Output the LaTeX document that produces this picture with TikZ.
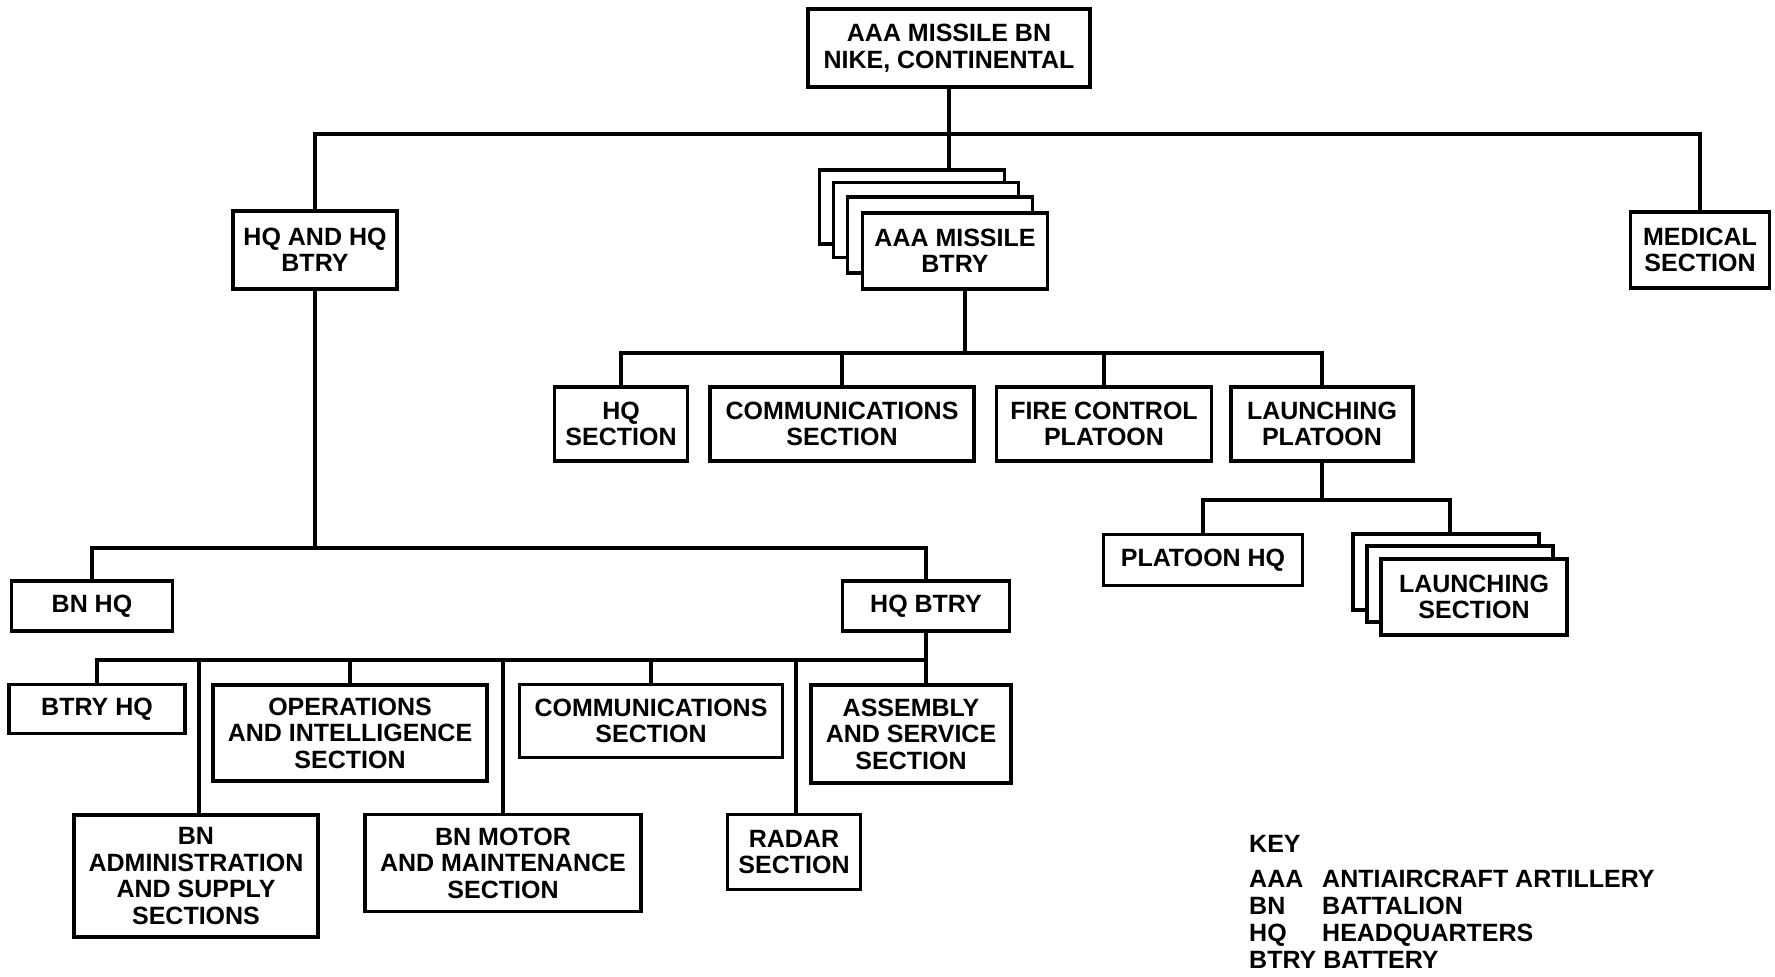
\documentclass[tikz,border=0pt]{standalone}
\usepackage{fontspec}
\setmainfont{Liberation Sans}
\begin{document}
\begin{tikzpicture}[x=1pt,y=1pt,
  box/.style={draw, line width=3.2pt, fill=white, align=center, inner sep=2pt,
    line join=miter, font=\fontsize{25}{26.5}\selectfont\bfseries},
  conn/.style={line width=3.2pt, line join=miter},
  keytext/.style={anchor=base west, inner sep=0pt, font=\fontsize{25}{26.5}\selectfont\bfseries}]
\useasboundingbox (0,0) rectangle (1775,-977);

% top
\node[box, minimum width=282, minimum height=78] (bn) at (949,-48) {AAA MISSILE BN\\NIKE, CONTINENTAL};
\node[box, minimum width=164, minimum height=78] (hqhq) at (315,-250) {HQ AND HQ\\BTRY};
\node[box, minimum width=185, minimum height=74] (btrya) at (912,-207) {};
\node[box, minimum width=185, minimum height=75] (btryb) at (926,-220) {};
\node[box, minimum width=185, minimum height=76] (btryc) at (940,-235) {};
\node[box, minimum width=185, minimum height=76] (btry) at (955,-251) {AAA MISSILE\\BTRY};
\node[box, minimum width=139, minimum height=76] (medical) at (1700,-250) {MEDICAL\\SECTION};

% battery row
\node[box, minimum width=133, minimum height=74] (hqsec) at (621,-424) {HQ\\SECTION};
\node[box, minimum width=264, minimum height=74] (comsec) at (842,-424) {COMMUNICATIONS\\SECTION};
\node[box, minimum width=215, minimum height=74] (fcp) at (1104,-424) {FIRE CONTROL\\PLATOON};
\node[box, minimum width=182, minimum height=74] (lp) at (1322,-424) {LAUNCHING\\PLATOON};

% launching platoon row
\node[box, minimum width=199, minimum height=51] (phq) at (1203,-560) {PLATOON HQ};
\node[box, minimum width=186, minimum height=76] (lsa) at (1446,-572) {};
\node[box, minimum width=186, minimum height=76] (lsb) at (1460,-584) {};
\node[box, minimum width=186, minimum height=76] (ls) at (1474,-597) {LAUNCHING\\SECTION};

% HQ and HQ btry
\node[box, minimum width=161, minimum height=50] (bnhq) at (92,-606) {BN HQ};
\node[box, minimum width=167, minimum height=50] (hqbtry) at (926,-606) {HQ BTRY};

\node[box, minimum width=176, minimum height=49] (btryhq) at (97,-709) {BTRY HQ};
\node[box, minimum width=274, minimum height=96] (opsec) at (350,-733) {OPERATIONS\\AND INTELLIGENCE\\SECTION};
\node[box, minimum width=263, minimum height=73] (comsec2) at (651,-721) {COMMUNICATIONS\\SECTION};
\node[box, minimum width=200, minimum height=98] (asssec) at (911,-734) {ASSEMBLY\\AND SERVICE\\SECTION};

\node[box, minimum width=244, minimum height=122] (bnadmin) at (196,-876) {BN\\ADMINISTRATION\\AND SUPPLY\\SECTIONS};
\node[box, minimum width=276, minimum height=97] (bnmotor) at (503,-863) {BN MOTOR\\AND MAINTENANCE\\SECTION};
\node[box, minimum width=133, minimum height=75] (radar) at (794,-852) {RADAR\\SECTION};

% bars
\coordinate (bar1) at (949,-134);
\coordinate (bar2) at (965,-353);
\coordinate (bar3) at (1322,-500);
\coordinate (bar4) at (315,-548);
\coordinate (bar5) at (926,-660);

% connectors
\draw[conn] (bn.south) -- (bn.south |- btrya.north);
\draw[conn] (hqhq.north) |- (bar1) -| (medical.north);

\draw[conn] ([xshift=10pt]btry.south) -- (bar2);
\draw[conn] (hqsec.north) |- (bar2) -| (lp.north);
\draw[conn] (comsec.north) -- (comsec.north |- bar2);
\draw[conn] (fcp.north) -- (fcp.north |- bar2);

\draw[conn] (lp.south) -- (bar3);
\draw[conn] (phq.north) |- (bar3) -| ([xshift=4pt]lsa.north);

\draw[conn] (hqhq.south) -- (bar4);
\draw[conn] (bnhq.north) |- (bar4) -| (hqbtry.north);

\draw[conn] (hqbtry.south) -- (hqbtry.south |- asssec.north);
\draw[conn] (btryhq.north) |- (bar5);
\draw[conn] (opsec.north) -- (opsec.north |- bar5);
\draw[conn] (comsec2.north) -- (comsec2.north |- bar5);
\draw[conn] ([xshift=3pt]bnadmin.north) -- ([xshift=3pt]bnadmin.north |- bar5);
\draw[conn] (bnmotor.north) -- (bnmotor.north |- bar5);
\draw[conn] ([xshift=2pt]radar.north) -- ([xshift=2pt]radar.north |- bar5);

% key
\node[keytext] (k0) at (1249,-852) {KEY};
\node[keytext] (k1) at (1249,-887) {AAA};
\node[keytext] (d1) at (1322,-887) {ANTIAIRCRAFT ARTILLERY};
\node[keytext] (k2) at (1249,-914) {BN};
\node[keytext] (d2) at (1322,-914) {BATTALION};
\node[keytext] (k3) at (1249,-941) {HQ};
\node[keytext] (d3) at (1322,-941) {HEADQUARTERS};
\node[keytext] (k4) at (1249,-968) {BTRY BATTERY};
\end{tikzpicture}
\end{document}
